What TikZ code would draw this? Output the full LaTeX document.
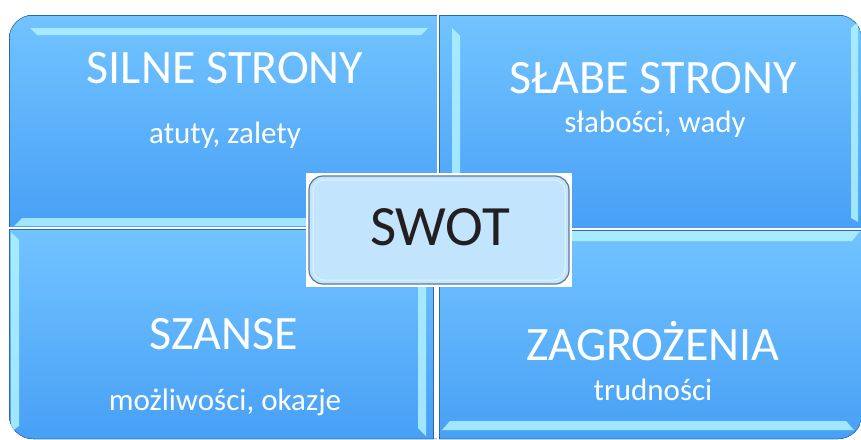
\documentclass[tikz,border=0pt]{standalone}
\usepackage{fontspec}
\setmainfont{Carlito}
\usetikzlibrary{positioning}
\definecolor{quadtop}{RGB}{114,196,255}
\definecolor{quadbot}{RGB}{72,160,246}
\definecolor{quadedge}{RGB}{44,104,176}
\definecolor{glint}{RGB}{176,242,255}
\definecolor{swotfill}{RGB}{194,229,253}
\definecolor{swotedge}{RGB}{92,120,150}
\definecolor{swottext}{RGB}{35,31,32}

\begin{document}
\begin{tikzpicture}[
    x=1pt, y=-1pt,
    quad/.style={top color=quadtop, bottom color=quadbot, draw=quadedge, line width=0.8pt},
    glintbar/.style={fill=glint, opacity=0.85},
    title/.style={text=white, font=\fontsize{48}{48}\selectfont, inner sep=0pt, anchor=base},
    sub/.style={text=white, font=\fontsize{31}{31}\selectfont, inner sep=0pt, anchor=base},
    swotbox/.style={draw=swotedge, line width=1.2pt, fill=swotfill, rounded corners=14pt},
]
\useasboundingbox (0,0) rectangle (861,439);

% quadrants, clipped to one rounded outline
\begin{scope}
\clip[rounded corners=24pt] (9,15) rectangle (862,439);
\fill[quad] (9,15) rectangle (437,227);
\fill[quad] (439,15) rectangle (862,228);
\fill[quad] (9,229) rectangle (433,439);
\fill[quad] (439,230) rectangle (862,439);
\draw[quadedge, line width=0.8pt, rounded corners=24pt] (9,15) rectangle (862,439);
\draw[quadedge, line width=0.8pt] (437,15) -- (437,227) -- (9,227);
\draw[quadedge, line width=0.8pt] (439,15) -- (439,439);
\draw[quadedge, line width=0.8pt] (9,229) -- (433,229) -- (433,439);
\draw[quadedge, line width=0.8pt] (439,228) -- (862,228);
% bevel glints
\fill[glintbar] (30,28) -- (428,28) -- (421,35) -- (37,35) -- cycle;
\fill[glintbar] (22,218) -- (428,218) -- (434,226) -- (14,226) -- cycle;
\fill[glintbar] (452,28) -- (460,36) -- (460,212) -- (452,220) -- cycle;
\fill[glintbar] (851,28) -- (858,22) -- (858,222) -- (851,218) -- cycle;
\fill[glintbar] (11,232) -- (19,240) -- (19,426) -- (11,432) -- cycle;
\fill[glintbar] (418,284) -- (426,284) -- (426,436) -- (418,428) -- cycle;
\fill[glintbar] (441,231) -- (860,231) -- (852,241) -- (449,241) -- cycle;
\fill[glintbar] (450,421) -- (846,421) -- (854,430) -- (442,430) -- cycle;
\end{scope}
\draw[white, line width=1.6pt] (438,14) -- (438,441);
\draw[white, line width=1.6pt] (8,228) -- (436,228);
\draw[white, line width=1.6pt] (440,229) -- (862,229);

% central SWOT box
\fill[white] (306,173) rectangle (572,287);
\draw[swotbox] (309,176) rectangle (569,284);
\draw[white, opacity=0.5, line width=1pt, rounded corners=11pt] (313,180) rectangle (565,280);
\node[text=swottext, font=\fontsize{57}{57}\selectfont, inner sep=0pt, anchor=base] (swot) at (440,245) {SWOT};

% labels
\node[title] (strengths) at (225,83) {SILNE STRONY};
\node[sub] (strengthsSub) at (225,143) {atuty, zalety};
\node[title] (weaknesses) at (653,93) {SŁABE STRONY};
\node[sub] (weaknessesSub) at (655,132) {słabości, wady};
\node[title] (chances) at (224,349) {SZANSE};
\node[sub] (chancesSub) at (225,410) {możliwości, okazje};
\node[title] (threats) at (653,360) {ZAGROŻENIA};
\node[sub] (threatsSub) at (653,400) {trudności};
\end{tikzpicture}
\end{document}
